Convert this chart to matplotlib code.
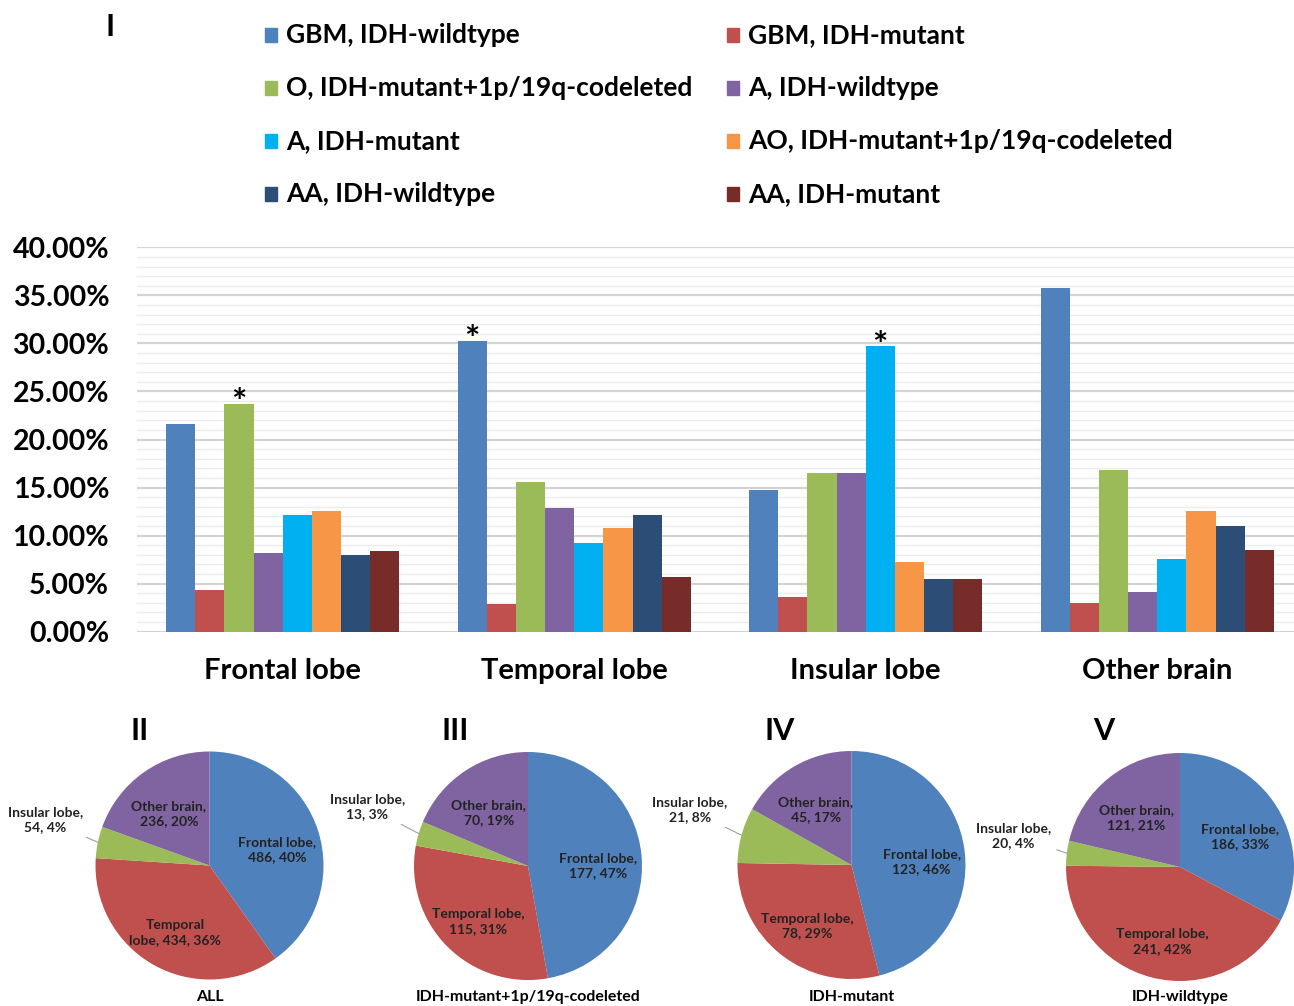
import numpy as np
import matplotlib
matplotlib.use("Agg")
from matplotlib import pyplot as plt
from matplotlib.patches import Rectangle

plt.rcParams['font.family'] = ['Lato', 'DejaVu Sans']
plt.rcParams['font.weight'] = 'bold'

# bar chart data (percent of each location)
locations = ["Frontal lobe", "Temporal lobe", "Insular lobe", "Other brain"]
series = ["GBM, IDH-wildtype", "GBM, IDH-mutant",
          "O, IDH-mutant+1p/19q-codeleted", "A, IDH-wildtype",
          "A, IDH-mutant", "AO, IDH-mutant+1p/19q-codeleted",
          "AA, IDH-wildtype", "AA, IDH-mutant"]
gbm_wt = [21.6, 30.3, 14.7, 35.8]
gbm_mut = [4.3, 2.9, 3.6, 3.0]
o_codel = [23.7, 15.6, 16.5, 16.8]
a_wt = [8.2, 12.9, 16.5, 4.1]
a_mut = [12.1, 9.2, 29.7, 7.6]
ao_codel = [12.6, 10.8, 7.3, 12.6]
aa_wt = [8.0, 12.1, 5.5, 11.0]
aa_mut = [8.4, 5.7, 5.5, 8.5]
bar_values = [gbm_wt, gbm_mut, o_codel, a_wt, a_mut, ao_codel, aa_wt, aa_mut]
# (location, series) pairs marked with an asterisk
starred = [(0, 2), (1, 0), (2, 4)]

colors = ['#4F81BD', '#C0504D', '#9BBB59', '#8064A2',
          '#00B0F0', '#F79646', '#2C4D75', '#772C2A']

# pie chart data
pie_names = ["Frontal lobe", "Temporal lobe", "Insular lobe", "Other brain"]
pie_titles = ["II", "III", "IV", "V"]
pie_subtitles = ["ALL", "IDH-mutant+1p/19q-codeleted", "IDH-mutant", "IDH-wildtype"]
pie_all = [486, 434, 54, 236]
pie_codel = [177, 115, 13, 70]
pie_mut = [123, 78, 21, 45]
pie_wt = [186, 241, 20, 121]
pie_values = [pie_all, pie_codel, pie_mut, pie_wt]

W, H = 1294, 1006
fig = plt.figure(figsize=(W / 100, H / 100), dpi=100)

def px_box(x0, y0, x1, y1):
    # pixel box (top-left origin) -> figure fraction rect
    return [x0 / W, 1 - y1 / H, (x1 - x0) / W, (y1 - y0) / H]

# ---- bar chart ----
ax = fig.add_axes(px_box(137, 247.3, 1303, 631.7))
n = len(series)
width = 0.1
x = np.arange(len(locations))
for i, (vals, c) in enumerate(zip(bar_values, colors)):
    ax.bar(x + (i - (n - 1) / 2) * width, vals, width, color=c, zorder=3)
for loc, s in starred:
    ax.text(loc + (s - (n - 1) / 2) * width, bar_values[s][loc] - 1.7, "*",
            ha='center', va='bottom', fontsize=26, fontweight='bold', zorder=4)

ax.set_xlim(-0.5, 3.5)
ax.set_ylim(0, 40)
ax.set_yticks(np.arange(0, 41, 5))
ax.set_yticklabels([f"{v:.2f}%" for v in np.arange(0, 41, 5)], fontsize=20.5)
ax.set_yticks(np.arange(0, 41, 1), minor=True)
ax.set_xticks(x)
ax.set_xticklabels(locations, fontsize=21)
ax.tick_params(axis='y', which='both', length=0, pad=20)
ax.tick_params(axis='x', length=0, pad=19)
ax.grid(axis='y', which='major', color='#d4d4d4', lw=1.6, zorder=0)
ax.grid(axis='y', which='minor', color='#ececec', lw=1.0, zorder=0)
for sp in ax.spines.values():
    sp.set_visible(False)

# legend laid out in two columns, row-wise like the original
for i, (lab, c) in enumerate(zip(series, colors)):
    row, col = divmod(i, 2)
    lx = [265, 727][col]
    ly = 35 + row * 53
    fig.patches.append(Rectangle((lx / W, 1 - (ly + 7) / H), 12 / W, 14 / H,
                                 color=c, transform=fig.transFigure))
    fig.text((lx + 21) / W, 1 - ly / H, lab, fontsize=19, va='center', ha='left')

fig.text(110 / W, 1 - 27 / H, "I", fontsize=22, ha='center', va='center')

# ---- pies ----
pie_centers = [(209.5, 865.5), (528, 866), (851.5, 865), (1180, 867)]
title_x = [140, 455, 780, 1104]
r = 114
for k, (vals, (cx, cy)) in enumerate(zip(pie_values, pie_centers)):
    R = 2 * r
    pax = fig.add_axes(px_box(cx - R, cy - R, cx + R, cy + R))
    wedges, _ = pax.pie(vals, colors=colors[:4], startangle=90, counterclock=False,
                        radius=1, wedgeprops=dict(linewidth=0))
    pax.set_xlim(-2, 2)
    pax.set_ylim(-2, 2)
    pax.set_aspect('equal')
    pax.axis('off')
    total = sum(vals)
    for j, (w, v) in enumerate(zip(wedges, vals)):
        pct = v / total * 100
        name = pie_names[j]
        if k == 0 and j == 1:
            txt = f"Temporal\nlobe, {v}, {pct:.0f}%"
        else:
            txt = f"{name},\n{v}, {pct:.0f}%"
        ang = np.deg2rad((w.theta1 + w.theta2) / 2)
        if name == "Insular lobe":
            tx, ty = 1.47 * np.cos(ang), 1.47 * np.sin(ang) + 0.1
            pax.annotate(txt, xy=(np.cos(ang), np.sin(ang)), xytext=(tx, ty),
                         ha='center', va='center', fontsize=10, color='#222222',
                         linespacing=1.3,
                         arrowprops=dict(arrowstyle='-', color='#a0a0a0', lw=0.8,
                                         shrinkA=2, shrinkB=0))
        else:
            rr = 0.62
            pax.text(rr * np.cos(ang), rr * np.sin(ang) - 0.05, txt, ha='center',
                     va='center', fontsize=10, color='#222222', linespacing=1.3)
    fig.text(title_x[k] / W, 1 - 731 / H, pie_titles[k], fontsize=22,
             ha='center', va='center')
    fig.text(cx / W, 1 - 997 / H, pie_subtitles[k], fontsize=11.5,
             ha='center', va='center')

fig.savefig("out.png", dpi=100)
